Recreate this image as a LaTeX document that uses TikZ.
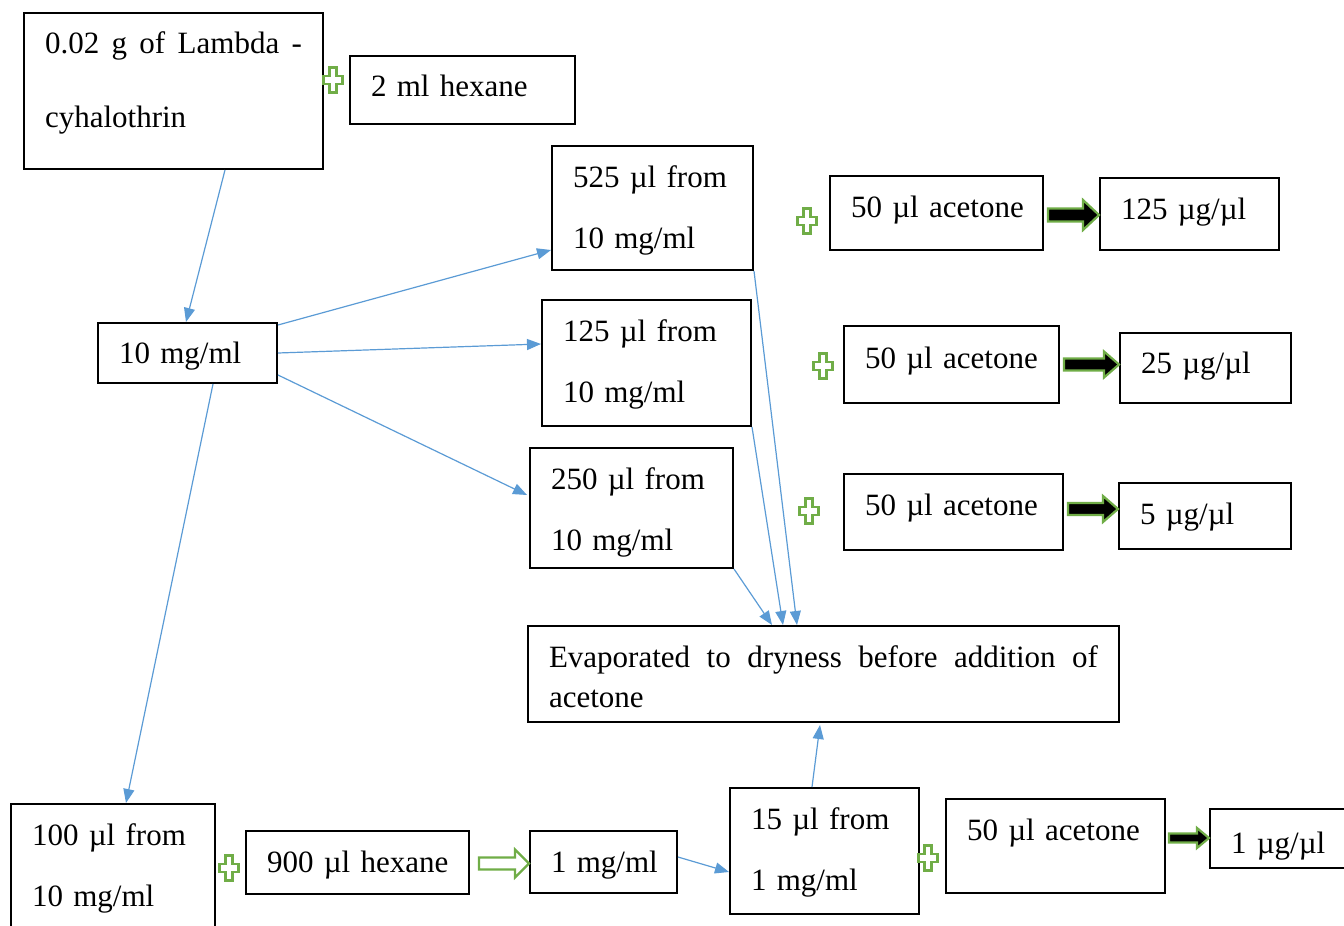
\documentclass[tikz,border=0pt]{standalone}
\usepackage{fontspec}
\setmainfont{Liberation Serif}
\usetikzlibrary{arrows.meta,calc}
\definecolor{flowblue}{RGB}{91,155,213}
\definecolor{officegreen}{RGB}{112,173,71}
\tolerance=9999
\hyphenpenalty=10000
\tikzset{
  box/.style={draw=black, line width=2pt, anchor=north west, inner xsep=21pt, inner ysep=0pt,
    align=left, font=\fontsize{31}{61}\selectfont},
  flow/.style={draw=flowblue, line width=1.2pt, -{Triangle[length=14pt,width=11pt]}},
  plussign/.style={draw=officegreen, line width=2.5pt, fill=white, line join=miter},
  blkarrow/.style={draw=officegreen, line width=2.2pt, fill=black, line join=miter},
  wharrow/.style={draw=officegreen, line width=2.2pt, fill=white, line join=miter},
}
% plus sign centred at (#1,#2)
\newcommand\PlusAt[2]{%
  \draw[plussign] ({#1-3.5},{#2-12.5}) -- ({#1+3.5},{#2-12.5}) -- ({#1+3.5},{#2-4}) -- ({#1+9.5},{#2-4})
    -- ({#1+9.5},{#2+4}) -- ({#1+3.5},{#2+4}) -- ({#1+3.5},{#2+12.5}) -- ({#1-3.5},{#2+12.5})
    -- ({#1-3.5},{#2+4}) -- ({#1-9.5},{#2+4}) -- ({#1-9.5},{#2-4}) -- ({#1-3.5},{#2-4}) -- cycle;}
% block arrow: style, start, end (x only), shaft half, head half, head length
\newcommand\BlockArr[6]{%
  \draw[#1] let \p1=(#2), \p2=(#3) in
    (\x1,{\y1+#4pt}) -- ({\x2-#6pt},{\y1+#4pt}) -- ({\x2-#6pt},{\y1+#5pt}) -- (\x2,\y1)
    -- ({\x2-#6pt},{\y1-#5pt}) -- ({\x2-#6pt},{\y1-#4pt}) -- (\x1,{\y1-#4pt}) -- cycle;}
\begin{document}
\begin{tikzpicture}[x=1pt,y=-1pt]
\useasboundingbox (0,0) rectangle (1344,926);

% boxes
\node[box, text width=257pt, align=justify, font=\fontsize{31}{74}\selectfont,
      text height=40pt, text depth=116pt] (lam) at (23,12) {0.02 g of Lambda - cyhalothrin};
\node[box, text width=183pt, text height=40pt, text depth=28pt] (hex2) at (349,55) {\mbox{2 ml hexane}};
\node[box, text width=137pt, text height=40pt, text depth=20pt] (ten) at (97,322) {\mbox{10 mg/ml}};
\node[box, text width=159pt, text height=41pt, text depth=83pt] (f525) at (551,145) {525 µl from\\10 mg/ml};
\node[box, text width=167pt, text height=41pt, text depth=85pt] (f125) at (541,299) {125 µl from\\10 mg/ml};
\node[box, text width=161pt, text height=41pt, text depth=79pt] (f250) at (529,447) {250 µl from\\10 mg/ml};
\node[box, text width=549pt, align=justify, font=\fontsize{31}{40}\selectfont,
      text height=41pt, text depth=55pt] (evap) at (527,625) {Evaporated to dryness before addition of acetone};
\node[box, text width=171pt, text height=41pt, text depth=33pt] (ac1) at (829,175) {\mbox{50 µl acetone}};
\node[box, text width=137pt, text height=41pt, text depth=31pt] (r125) at (1099,177) {\mbox{125 µg/µl}};
\node[box, text width=173pt, text height=42pt, text depth=35pt] (ac2) at (843,325) {\mbox{50 µl acetone}};
\node[box, text width=129pt, text height=40pt, text depth=30pt] (r25) at (1119,332) {\mbox{25 µg/µl}};
\node[box, text width=177pt, text height=41pt, text depth=35pt] (ac3) at (843,473) {\mbox{50 µl acetone}};
\node[box, text width=130pt, text height=41pt, text depth=25pt] (r5) at (1118,482) {\mbox{5 µg/µl}};
\node[box, text width=162pt, text height=41pt, text depth=91pt] (f100) at (10,803) {100 µl from\\10 mg/ml};
\node[box, text width=181pt, text height=41pt, text depth=22pt] (hex9) at (245,830) {\mbox{900 µl hexane}};
\node[box, text width=105pt, text height=41pt, text depth=21pt] (mg1) at (529,830) {\mbox{1 mg/ml}};
\node[box, text width=147pt, text height=41pt, text depth=85pt] (f15) at (729,787) {15 µl from\\1 mg/ml};
\node[box, text width=177pt, text height=41pt, text depth=53pt] (ac4) at (945,798) {\mbox{50 µl acetone}};
\node[box, text width=99pt, text height=44pt, text depth=15pt] (r1) at (1209,808) {\mbox{1 µg/µl}};

% blue connectors
\draw[flow] ([xshift=202pt]lam.south west) -- ([xshift=89pt]ten.north west);
\draw[flow] ([yshift=-3pt]ten.north east) -- ([yshift=-105pt]f525.north west);
\draw[flow] ([yshift=-31pt]ten.north east) -- ([yshift=-45pt]f125.north west);
\draw[flow] ([yshift=-53pt]ten.north east) -- ([xshift=-2pt,yshift=-48pt]f250.north west);
\draw[flow] ([xshift=116pt]ten.south west) -- ([xshift=116pt]f100.north west);
\draw[flow] (f525.south east) -- ([xshift=270pt]evap.north west);
\draw[flow] (f125.south east) -- ([xshift=256pt]evap.north west);
\draw[flow] (f250.south east) -- ([xshift=245pt]evap.north west);
\draw[flow] ([yshift=-27pt]mg1.north east) -- ([yshift=-85pt]f15.north west);
\draw[flow] ([xshift=83pt]f15.north west) -- ([xshift=293pt,yshift=-2pt]evap.south west);

% plus signs
\PlusAt{333}{80}
\PlusAt{807}{221}
\PlusAt{823}{366}
\PlusAt{809}{511}
\PlusAt{229}{868}
\PlusAt{928}{858}

% block arrows
\BlockArr{blkarrow}{[xshift=4pt,yshift=-2pt]ac1.east}{r125.west}{6.5}{15}{16}
\BlockArr{blkarrow}{[xshift=4pt]ac2.east}{r25.west}{6}{13}{15}
\BlockArr{blkarrow}{[xshift=4pt,yshift=3pt]ac3.east}{r5.west}{6}{13}{15}
\BlockArr{blkarrow}{[xshift=3pt,yshift=8pt]ac4.east}{r1.west}{4.5}{10}{12}
\BlockArr{wharrow}{[xshift=9pt,yshift=-1pt]hex9.east}{mg1.west}{6}{14}{14}
\end{tikzpicture}
\end{document}
